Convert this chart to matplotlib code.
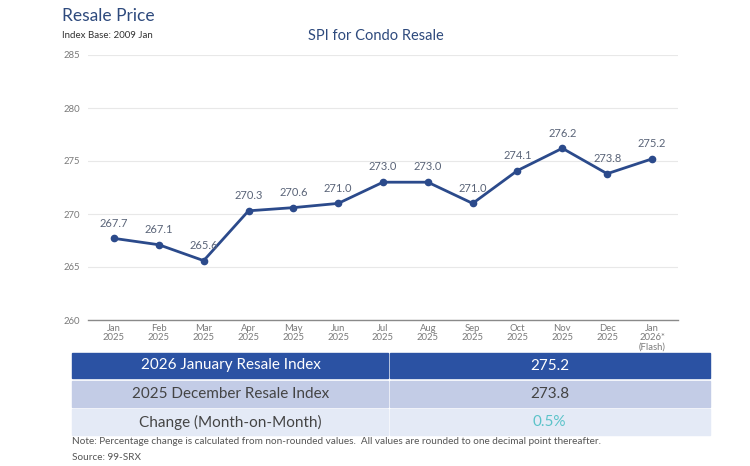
import matplotlib
matplotlib.use("Agg")
import matplotlib.pyplot as plt
from matplotlib.patches import Rectangle

plt.rcParams["font.family"] = ["Lato", "DejaVu Sans"]

# ---------------------------------------------------------------------------
# Data
# ---------------------------------------------------------------------------
months = ["Jan\n2025", "Feb\n2025", "Mar\n2025", "Apr\n2025", "May\n2025",
          "Jun\n2025", "Jul\n2025", "Aug\n2025", "Sep\n2025", "Oct\n2025",
          "Nov\n2025", "Dec\n2025", "Jan\n2026*\n(Flash)"]
spi = [267.7, 267.1, 265.6, 270.3, 270.6, 271.0, 273.0, 273.0, 271.0,
       274.1, 276.2, 273.8, 275.2]
y_ticks = [260, 265, 270, 275, 280, 285]

table_labels = ["2026 January Resale Index", "2025 December Resale Index",
                "Change (Month-on-Month)"]
table_values = ["275.2", "273.8", "0.5%"]

W, H = 750, 466
LINE = "#2b4a8b"
NAVY = "#2e4a7d"
GREY = "#7a7a7a"

fig = plt.figure(figsize=(W / 100, H / 100), dpi=100)


def fx(px):
    return px / W


def fy(py):
    return 1 - py / H


# ---------------------------------------------------------------------------
# Titles
# ---------------------------------------------------------------------------
fig.text(fx(62), fy(16), "Resale Price", fontsize=12.5, color=NAVY,
         va="center", ha="left")
fig.text(fx(62), fy(35), "Index Base: 2009 Jan", fontsize=7, color="#333333",
         va="center", ha="left")
fig.text(fx(376), fy(36), "SPI for Condo Resale", fontsize=10.5, color=NAVY,
         va="center", ha="center")

# ---------------------------------------------------------------------------
# Line chart
# ---------------------------------------------------------------------------
ax = fig.add_axes([fx(88), fy(320), fx(678) - fx(88), fy(55) - fy(320)])
x = list(range(len(spi)))
ax.plot(x, spi, color=LINE, linewidth=2.0, marker="o", markersize=4.5,
        zorder=3)
for xi, v in zip(x, spi):
    ax.annotate(f"{v:.1f}", (xi, v), xytext=(0, 7), textcoords="offset points",
                ha="center", va="bottom", fontsize=8, color="#5a6478")

ax.set_xlim(-0.58, len(spi) - 0.42)
ax.set_ylim(260, 285)
ax.set_yticks(y_ticks)
ax.set_xticks(x)
ax.set_xticklabels(months, fontsize=6.8, color=GREY, linespacing=1.0)
ax.tick_params(axis="y", labelsize=6.8, labelcolor=GREY, length=0, pad=6)
ax.tick_params(axis="x", length=0, pad=3)
ax.grid(axis="y", color="#e8e8e8", linewidth=0.8)
ax.set_axisbelow(True)
for side in ("top", "right", "left"):
    ax.spines[side].set_visible(False)
ax.spines["bottom"].set_color("#8a8a8a")
ax.spines["bottom"].set_linewidth(1.0)

# ---------------------------------------------------------------------------
# Summary table
# ---------------------------------------------------------------------------
row_spans = [(353, 378), (381, 407), (409, 435)]
row_bg = ["#2b52a3", "#c3cce6", "#e4eaf6"]
row_fg = ["white", "#444444", "#444444"]
value_fg = ["white", "#444444", "#5bc3c9"]
left, mid, right = 72, 389, 710

for (top, bot), bg, fg, vfg, lab, val in zip(row_spans, row_bg, row_fg,
                                           value_fg, table_labels,
                                           table_values):
    h = (bot - top) / H
    fig.patches.append(Rectangle((fx(left), fy(bot)), fx(mid - 1) - fx(left), h,
                                 transform=fig.transFigure, color=bg,
                                 zorder=0))
    fig.patches.append(Rectangle((fx(mid + 1), fy(bot)), fx(right) - fx(mid + 1),
                                 h, transform=fig.transFigure, color=bg,
                                 zorder=0))
    yc = fy((top + bot) / 2)
    fig.text(fx((left + mid) / 2), yc, lab, fontsize=11, color=fg,
             ha="center", va="center")
    fig.text(fx((mid + right) / 2), yc, val, fontsize=11, color=vfg,
             ha="center", va="center")

fig.text(fx(72), fy(441), "Note: Percentage change is calculated from non-rounded "
         "values.  All values are rounded to one decimal point thereafter.",
         fontsize=7.2, color="#555555", ha="left", va="center")
fig.text(fx(72), fy(457), "Source: 99-SRX", fontsize=7.2, color="#555555",
         ha="left", va="center")

fig.savefig("out.png", dpi=100)
